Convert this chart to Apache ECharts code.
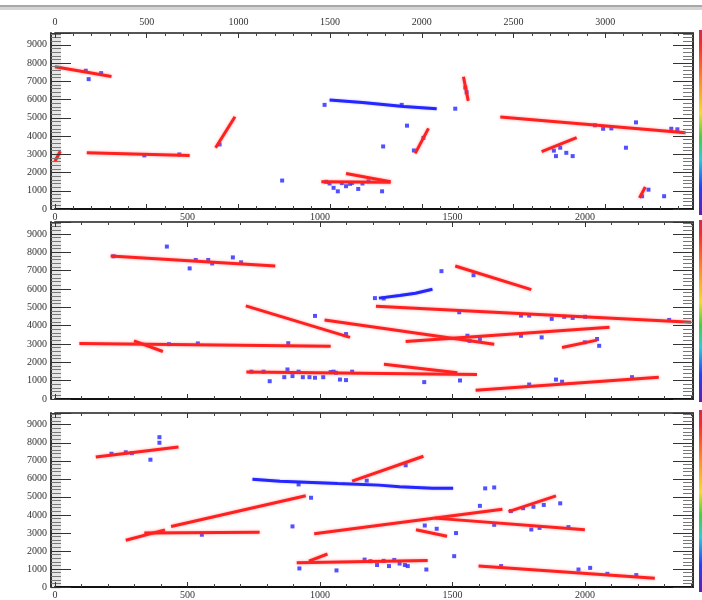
<!DOCTYPE html>
<html>
<head>
<meta charset="utf-8">
<script src="https://cdn.jsdelivr.net/npm/echarts@6/dist/echarts.min.js"></script>
<style>
html,body{margin:0;padding:0;background:#fff;}
#chart{width:702px;height:600px;}
</style>
</head>
<body>
<div id="chart"></div>
<script>
// ---- Tick labels ----
const topTickLabels = [0, 500, 1000, 1500, 2000, 2500, 3000];
const bottomTickLabels = [0, 500, 1000, 1500, 2000];
const yTickLabels = [0, 1000, 2000, 3000, 4000, 5000, 6000, 7000, 8000, 9000];

// ---- Panel 1 ----
const p1RedSegments = [
  [[0,7800],[213,7270]],
  [[0,2620],[20,3170]],
  [[120,3080],[508,2940]],
  [[606,3360],[679,5060]],
  [[1541,7250],[1559,5930]],
  [[1359,3050],[1409,4420]],
  [[1005,1490],[1266,1470]],
  [[1098,1950],[1266,1490]],
  [[1680,5050],[2379,4180]],
  [[1836,3140],[1968,3910]],
  [[2205,610],[2227,1210]]
];
const p1BlueLines = [
  [[1036,5980],[1160,5840],[1315,5620],[1440,5500]]
];
const p1BluePoints = [
  [116,7580],[174,7450],[127,7120],
  [337,2940],[469,2990],[621,3540],
  [1017,5710],[1308,5710],[1510,5500],
  [1548,6660],[1553,6400],
  [1354,3210],[1390,3900],[1328,4570],[1238,3430],[857,1560],
  [1023,1490],[1051,1160],[1067,970],[1098,1250],[1121,1430],[1144,1100],[1183,1520],[1234,970],
  [1036,1400],[1082,1420],[1113,1380],[1160,1400],
  [2037,4590],[2068,4400],[2099,4420],[2192,4750],[2325,4400],[2348,4370],
  [1890,2900],[1929,3080],[1953,2900],[1906,3360],[1882,3200],
  [2239,1060],[2298,700],[2154,3360],[2215,700]
];

// ---- Panel 2 ----
const p2RedSegments = [
  [[210,7800],[831,7250]],
  [[1510,7250],[1797,5960]],
  [[1211,5050],[2400,4180]],
  [[720,5080],[1113,3360]],
  [[1017,4310],[1657,2990]],
  [[1323,3140],[2092,3910]],
  [[92,3030],[1040,2880]],
  [[298,3170],[407,2590]],
  [[1913,2810],[2045,3210]],
  [[722,1470],[1592,1340]],
  [[1241,1890],[1518,1430]],
  [[1587,480],[2278,1190]]
];
const p2BlueLines = [
  [[1222,5500],[1300,5640],[1360,5770],[1424,5980]]
];
const p2BluePoints = [
  [221,7780],[422,8310],[508,7120],[531,7580],[578,7580],[593,7390],[671,7720],[702,7450],
  [1579,6750],[1458,6970],[1207,5500],[1240,5480],
  [1525,4730],[1758,4550],[1789,4550],[1874,4370],[1921,4480],[1953,4420],[2000,4480],[2317,4310],
  [1098,3540],[981,4530],
  [1556,3450],[1564,3170],[1603,3270],[1758,3450],[1836,3360],
  [430,2990],[539,3030],[880,3040],
  [2045,3270],[2053,2900],[1999,3090],
  [741,1490],[787,1490],[810,970],[865,1190],[877,1610],[896,1250],[919,1490],[935,1190],[960,1190],
  [981,1160],[1012,1190],[1051,1490],[1075,1060],[1098,1030],[1121,1490],[1393,920],[1528,1010],
  [1040,1470],[1060,1430],
  [1789,790],[1890,1060],[1913,940],[2177,1190]
];

// ---- Panel 3 ----
const p3RedSegments = [
  [[154,7210],[466,7760]],
  [[1121,5870],[1390,7250]],
  [[438,3360],[946,5060]],
  [[267,2590],[415,3170]],
  [[337,2990],[772,3030]],
  [[978,2950],[1688,4310]],
  [[1432,3820],[1999,3170]],
  [[1711,4180],[1890,5050]],
  [[1362,3170],[1479,2810]],
  [[912,1340],[1406,1470]],
  [[958,1430],[1028,1830]],
  [[1598,1160],[2263,480]]
];
const p3BlueLines = [
  [[745,5980],[849,5870],[1067,5740],[1222,5650],[1300,5560],[1424,5470],[1502,5470]]
];
const p3BluePoints = [
  [213,7390],[267,7470],[290,7420],[360,7060],[394,8310],[394,8000],
  [919,5690],[1623,5470],[1657,5520],[1176,5900],[1323,6750],[966,4950],
  [554,2900],[896,3360],
  [1720,4210],[1766,4370],[1805,4450],[1844,4550],[1906,4640],[1603,4500],
  [1395,3410],[1440,3230],[1513,2990],[1657,3450],[1797,3190],[1828,3280],[1937,3320],
  [922,1030],[1062,920],[1168,1520],[1190,1430],[1215,1220],[1240,1450],[1260,1160],[1280,1500],
  [1300,1300],[1320,1220],[1331,1160],[1401,970],[1506,1710],
  [1683,1160],[1975,970],[2019,1060],[2084,730],[2193,660]
];

// ---- Build chart ----
const RED = '#ff2020';
const BLUE = '#2626ff';
const labelFont = {fontFamily: 'Liberation Serif', fontSize: 10, color: '#333'};
const topMax = 3479, botMax = 2407, yMax = 9650;

const grids = [
  {left: 55, width: 638, top: 33, height: 176},
  {left: 55, width: 638, top: 222, height: 177},
  {left: 55, width: 638, top: 413, height: 176}
];

function xAx(grid, pos, max, opts) {
  return Object.assign({
    type: 'value', gridIndex: grid, position: pos, min: 0, max: max, interval: 500, z: 10,
    axisLine: {show: true, onZero: false, lineStyle: {color: pos === 'top' ? '#555' : '#111', width: 2}},
    axisTick: {show: true, inside: true, length: 5, lineStyle: {color: '#333'}},
    minorTick: {show: true, splitNumber: 5, length: 3, lineStyle: {color: '#444'}},
    axisLabel: {show: false},
    splitLine: {show: false}
  }, opts || {});
}
function labelsOnly(values) {
  return {show: true, margin: 3, showMaxLabel: false, ...labelFont,
    formatter: v => (values.indexOf(v) >= 0 ? String(v) : '')};
}

const xAxes = [
  xAx(0, 'top', topMax, {axisLabel: Object.assign(labelsOnly(topTickLabels), {margin: 6})}),
  xAx(0, 'bottom', topMax),
  xAx(0, 'bottom', botMax, {axisLine: {show: false, onZero: false}, axisTick: {show: false}, minorTick: {show: false},
      axisLabel: labelsOnly(bottomTickLabels)}),
  xAx(1, 'bottom', botMax),
  xAx(1, 'top', botMax),
  xAx(2, 'bottom', botMax, {axisLabel: labelsOnly(bottomTickLabels)}),
  xAx(2, 'top', botMax)
];

function yAx(grid, pos) {
  return {
    type: 'value', gridIndex: grid, position: pos, min: 0, max: yMax, interval: 1000, z: 10,
    offset: pos === 'left' ? 4 : 0,
    axisLine: {show: true, onZero: false, lineStyle: {color: '#333', width: 2}},
    axisTick: {show: true, inside: true, length: 20, lineStyle: {color: '#333'}},
    minorTick: {show: true, splitNumber: 5, length: 10, lineStyle: {color: '#777'}},
    axisLabel: pos === 'left' ? Object.assign(labelsOnly(yTickLabels), {margin: 4}) : {show: false},
    splitLine: {show: false}
  };
}
const yAxes = [yAx(0,'left'), yAx(0,'right'), yAx(1,'left'), yAx(1,'right'), yAx(2,'left'), yAx(2,'right')];

const series = [];
function addPanel(red, blueLines, bluePts, xi, yi) {
  red.forEach(seg => series.push({
    type: 'line', xAxisIndex: xi, yAxisIndex: yi, data: seg, symbol: 'none', silent: true,
    lineStyle: {color: RED, width: 3, shadowColor: 'rgba(255,90,90,0.55)', shadowBlur: 3}
  }));
  blueLines.forEach(seg => series.push({
    type: 'line', xAxisIndex: xi, yAxisIndex: yi, data: seg, symbol: 'none', silent: true,
    lineStyle: {color: BLUE, width: 3, shadowColor: 'rgba(90,90,255,0.5)', shadowBlur: 2}
  }));
  series.push({
    type: 'scatter', xAxisIndex: xi, yAxisIndex: yi, data: bluePts, symbol: 'rect', symbolSize: 4,
    itemStyle: {color: BLUE}, silent: true
  });
}
addPanel(p1RedSegments, p1BlueLines, p1BluePoints, 2, 0);
addPanel(p2RedSegments, p2BlueLines, p2BluePoints, 3, 2);
addPanel(p3RedSegments, p3BlueLines, p3BluePoints, 5, 4);

function strip(top, h) {
  return {type: 'rect', left: 699, top: top, shape: {width: 3, height: h}, silent: true,
    style: {fill: new echarts.graphic.LinearGradient(0, 0, 0, 1, [
      {offset: 0, color: '#c83050'}, {offset: 0.08, color: '#ff2a2a'}, {offset: 0.3, color: '#ff9a20'},
      {offset: 0.45, color: '#f0e020'}, {offset: 0.58, color: '#40d040'}, {offset: 0.7, color: '#20d0e0'},
      {offset: 0.85, color: '#2040ff'}, {offset: 1, color: '#6020b0'}])}};
}
function band(left, top, h) {
  return {type: 'rect', left: left, top: top, shape: {width: 10, height: h}, silent: true, z: -1,
    style: {fill: '#e6e6e6'}};
}

const chart = echarts.init(document.getElementById('chart'), null, {renderer: 'canvas'});
chart.setOption({
  animation: false,
  backgroundColor: '#fff',
  grid: grids,
  xAxis: xAxes,
  yAxis: yAxes,
  series: series,
  graphic: [
    {type: 'rect', left: 0, top: 5, shape: {width: 702, height: 2}, style: {fill: '#a8a8a8'}, silent: true},
    {type: 'rect', left: 0, top: 7, shape: {width: 702, height: 3}, style: {fill: '#d4d4d4'}, silent: true},
    band(51, 33, 176),
    band(51, 222, 177),
    band(51, 413, 176),
    strip(30, 185), strip(220, 182), strip(410, 182)
  ]
});
</script>
</body>
</html>
